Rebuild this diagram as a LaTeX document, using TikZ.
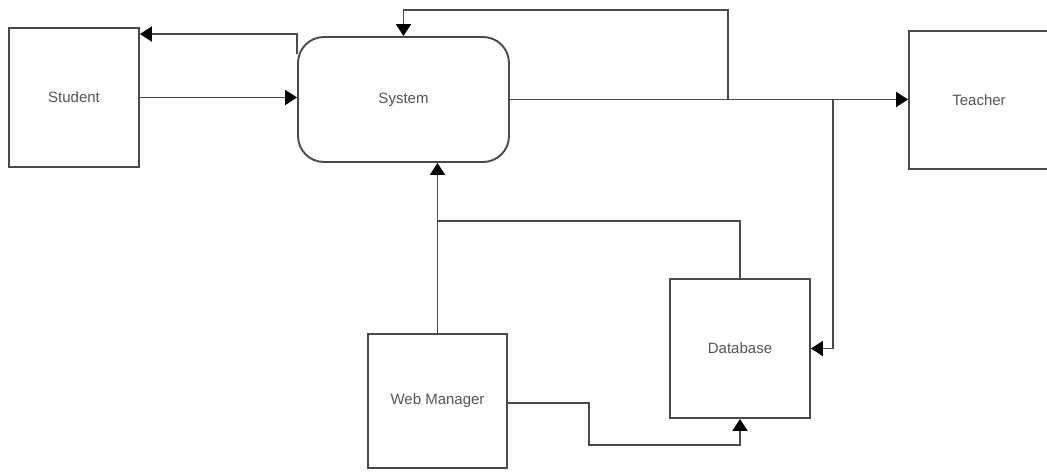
\documentclass[tikz,border=0pt]{standalone}
\usepackage{fontspec}
\setmainfont{Liberation Sans}
\usetikzlibrary{arrows.meta}
\definecolor{linec}{HTML}{4A4A4A}
\definecolor{textc}{HTML}{555555}
\tikzset{
  box/.style={draw=linec, line width=1.9pt, fill=white, inner sep=0pt, text=textc, font=\fontsize{15}{18}\selectfont},
  conn/.style={draw=linec, line width=1.9pt},
  arr/.style={conn, -{Triangle[length=12pt,width=15pt,fill=black,color=black]}}
}
\begin{document}
\begin{tikzpicture}[x=1pt,y=-1pt]
\useasboundingbox (0,0) rectangle (1047,472);
\clip (0,0) rectangle (1047,472);
\fill[white] (0,0) rectangle (1047,472);
% nodes
\node[box, minimum width=130pt, minimum height=139pt] (student) at (74,97.5) {Student};
\node[box, rounded corners=26pt, minimum width=211pt, minimum height=125pt] (system) at (403.5,99.5) {System};
\node[box, minimum width=140pt, minimum height=138pt] (teacher) at (979,100) {Teacher};
\node[box, minimum width=139pt, minimum height=134pt] (webmgr) at (437.5,401) {Web Manager};
\node[box, minimum width=140pt, minimum height=139pt] (database) at (740,348.5) {Database};
% junctions
\coordinate (j1) at (728,99.5);
\coordinate (j2) at (833,99.5);
\coordinate (j3) at (437.5,221);
% connectors
\draw[arr] (student.east) -- (student.east -| system.west);
\draw[arr] ([yshift=-18pt]system.north west) |- ([yshift=-7pt]student.north east);
\draw[arr] (system.east) -- (system.east -| teacher.west);
\draw[arr] (j1) -- ++(0,-89.5) -| (system.north);
\draw[arr] (j2) |- (database.east);
\draw[arr] (webmgr.north) -- (webmgr.north |- system.south);
\draw[conn] (j3) -| (database.north);
\draw[arr] ([yshift=-2pt]webmgr.east) -- ++(81,0) -- ++(0,42) -| (database.south);
\end{tikzpicture}
\end{document}
